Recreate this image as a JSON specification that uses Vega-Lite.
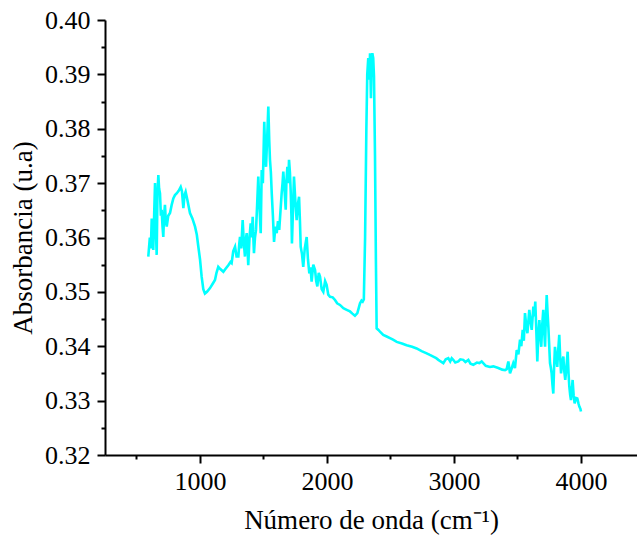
{
  "$schema": "https://vega.github.io/schema/vega-lite/v6.json",
  "width": 532,
  "height": 435,
  "autosize": {"type": "none"},
  "padding": {"left": 105, "top": 20, "right": 0, "bottom": 89},
  "background": "white",
  "config": {
    "view": {"stroke": null},
    "axis": {
      "labelFont": "Liberation Serif",
      "titleFont": "Liberation Serif",
      "labelColor": "#000000",
      "titleColor": "#000000",
      "domainColor": "#000000",
      "tickColor": "#000000",
      "grid": false,
      "labelFontWeight": "normal",
      "titleFontWeight": "normal"
    }
  },
  "data": {
    "values": [
      {"wn": 593, "abs": 0.3565}, {"wn": 605, "abs": 0.3600}, {"wn": 613, "abs": 0.3580}, {"wn": 620, "abs": 0.3635},
      {"wn": 626, "abs": 0.3600}, {"wn": 632, "abs": 0.3577}, {"wn": 640, "abs": 0.3650}, {"wn": 646, "abs": 0.3700},
      {"wn": 652, "abs": 0.3620}, {"wn": 659, "abs": 0.3568}, {"wn": 665, "abs": 0.3680}, {"wn": 672, "abs": 0.3715},
      {"wn": 678, "abs": 0.3690}, {"wn": 685, "abs": 0.3681}, {"wn": 692, "abs": 0.3640}, {"wn": 698, "abs": 0.3651},
      {"wn": 705, "abs": 0.3620}, {"wn": 711, "abs": 0.3601}, {"wn": 717, "abs": 0.3640}, {"wn": 724, "abs": 0.3660},
      {"wn": 731, "abs": 0.3630}, {"wn": 738, "abs": 0.3620}, {"wn": 750, "abs": 0.3640}, {"wn": 764, "abs": 0.3645},
      {"wn": 777, "abs": 0.3660}, {"wn": 790, "abs": 0.3672}, {"wn": 803, "abs": 0.3678}, {"wn": 816, "abs": 0.3681},
      {"wn": 832, "abs": 0.3686}, {"wn": 848, "abs": 0.3693}, {"wn": 858, "abs": 0.3685}, {"wn": 869, "abs": 0.3654},
      {"wn": 878, "abs": 0.3678}, {"wn": 887, "abs": 0.3684}, {"wn": 900, "abs": 0.3670}, {"wn": 921, "abs": 0.3645},
      {"wn": 940, "abs": 0.3635}, {"wn": 961, "abs": 0.3620}, {"wn": 975, "abs": 0.3605}, {"wn": 987, "abs": 0.3583},
      {"wn": 1000, "abs": 0.3560}, {"wn": 1013, "abs": 0.3528}, {"wn": 1026, "abs": 0.3505}, {"wn": 1039, "abs": 0.3497},
      {"wn": 1055, "abs": 0.3500}, {"wn": 1079, "abs": 0.3507}, {"wn": 1100, "abs": 0.3515}, {"wn": 1118, "abs": 0.3522},
      {"wn": 1130, "abs": 0.3535}, {"wn": 1144, "abs": 0.3546}, {"wn": 1160, "abs": 0.3542}, {"wn": 1184, "abs": 0.3537},
      {"wn": 1200, "abs": 0.3542}, {"wn": 1223, "abs": 0.3549}, {"wn": 1240, "abs": 0.3555}, {"wn": 1249, "abs": 0.3553},
      {"wn": 1262, "abs": 0.3575}, {"wn": 1276, "abs": 0.3583}, {"wn": 1288, "abs": 0.3565}, {"wn": 1302, "abs": 0.3565},
      {"wn": 1310, "abs": 0.3590}, {"wn": 1315, "abs": 0.3601}, {"wn": 1325, "abs": 0.3580}, {"wn": 1336, "abs": 0.3632},
      {"wn": 1345, "abs": 0.3590}, {"wn": 1354, "abs": 0.3565}, {"wn": 1360, "abs": 0.3595}, {"wn": 1368, "abs": 0.3608},
      {"wn": 1374, "abs": 0.3580}, {"wn": 1380, "abs": 0.3549}, {"wn": 1390, "abs": 0.3600}, {"wn": 1399, "abs": 0.3626},
      {"wn": 1407, "abs": 0.3600}, {"wn": 1415, "abs": 0.3638}, {"wn": 1420, "abs": 0.3600}, {"wn": 1425, "abs": 0.3571},
      {"wn": 1433, "abs": 0.3600}, {"wn": 1441, "abs": 0.3614}, {"wn": 1450, "abs": 0.3660}, {"wn": 1459, "abs": 0.3712},
      {"wn": 1468, "abs": 0.3660}, {"wn": 1478, "abs": 0.3608}, {"wn": 1486, "abs": 0.3724}, {"wn": 1495, "abs": 0.3700},
      {"wn": 1506, "abs": 0.3813}, {"wn": 1513, "abs": 0.3760}, {"wn": 1520, "abs": 0.3730}, {"wn": 1530, "abs": 0.3790},
      {"wn": 1538, "abs": 0.3841}, {"wn": 1545, "abs": 0.3780}, {"wn": 1551, "abs": 0.3743}, {"wn": 1558, "abs": 0.3720},
      {"wn": 1565, "abs": 0.3681}, {"wn": 1574, "abs": 0.3640}, {"wn": 1583, "abs": 0.3592}, {"wn": 1594, "abs": 0.3620},
      {"wn": 1604, "abs": 0.3608}, {"wn": 1614, "abs": 0.3630}, {"wn": 1624, "abs": 0.3614}, {"wn": 1634, "abs": 0.3650},
      {"wn": 1643, "abs": 0.3681}, {"wn": 1650, "abs": 0.3700}, {"wn": 1656, "abs": 0.3721}, {"wn": 1665, "abs": 0.3690},
      {"wn": 1675, "abs": 0.3651}, {"wn": 1680, "abs": 0.3700}, {"wn": 1688, "abs": 0.3730}, {"wn": 1695, "abs": 0.3700},
      {"wn": 1701, "abs": 0.3743}, {"wn": 1708, "abs": 0.3720}, {"wn": 1714, "abs": 0.3687}, {"wn": 1720, "abs": 0.3640},
      {"wn": 1724, "abs": 0.3589}, {"wn": 1732, "abs": 0.3650}, {"wn": 1740, "abs": 0.3712}, {"wn": 1750, "abs": 0.3670},
      {"wn": 1761, "abs": 0.3632}, {"wn": 1770, "abs": 0.3660}, {"wn": 1780, "abs": 0.3675}, {"wn": 1787, "abs": 0.3630},
      {"wn": 1793, "abs": 0.3583}, {"wn": 1803, "abs": 0.3570}, {"wn": 1813, "abs": 0.3546}, {"wn": 1825, "abs": 0.3580},
      {"wn": 1840, "abs": 0.3601}, {"wn": 1850, "abs": 0.3560}, {"wn": 1861, "abs": 0.3534}, {"wn": 1870, "abs": 0.3545},
      {"wn": 1879, "abs": 0.3519}, {"wn": 1892, "abs": 0.3550}, {"wn": 1906, "abs": 0.3540}, {"wn": 1915, "abs": 0.3520},
      {"wn": 1924, "abs": 0.3510}, {"wn": 1935, "abs": 0.3535}, {"wn": 1945, "abs": 0.3528}, {"wn": 1958, "abs": 0.3505},
      {"wn": 1971, "abs": 0.3500}, {"wn": 1985, "abs": 0.3520}, {"wn": 1997, "abs": 0.3513}, {"wn": 2010, "abs": 0.3495},
      {"wn": 2024, "abs": 0.3491}, {"wn": 2045, "abs": 0.3490}, {"wn": 2063, "abs": 0.3485}, {"wn": 2080, "abs": 0.3479},
      {"wn": 2102, "abs": 0.3476}, {"wn": 2129, "abs": 0.3470}, {"wn": 2155, "abs": 0.3467}, {"wn": 2181, "abs": 0.3464},
      {"wn": 2200, "abs": 0.3460}, {"wn": 2220, "abs": 0.3456}, {"wn": 2239, "abs": 0.3461}, {"wn": 2260, "abs": 0.3479},
      {"wn": 2272, "abs": 0.3484}, {"wn": 2281, "abs": 0.3482}, {"wn": 2290, "abs": 0.3486}, {"wn": 2300, "abs": 0.3600},
      {"wn": 2310, "abs": 0.3800}, {"wn": 2317, "abs": 0.3900}, {"wn": 2325, "abs": 0.3930}, {"wn": 2332, "abs": 0.3890},
      {"wn": 2339, "abs": 0.3939}, {"wn": 2346, "abs": 0.3856}, {"wn": 2352, "abs": 0.3930}, {"wn": 2357, "abs": 0.3939},
      {"wn": 2364, "abs": 0.3930}, {"wn": 2370, "abs": 0.3896}, {"wn": 2378, "abs": 0.3750}, {"wn": 2385, "abs": 0.3560},
      {"wn": 2391, "abs": 0.3433}, {"wn": 2405, "abs": 0.3430}, {"wn": 2417, "abs": 0.3427}, {"wn": 2443, "abs": 0.3421},
      {"wn": 2470, "abs": 0.3418}, {"wn": 2496, "abs": 0.3415}, {"wn": 2520, "abs": 0.3412}, {"wn": 2549, "abs": 0.3408},
      {"wn": 2590, "abs": 0.3405}, {"wn": 2627, "abs": 0.3402}, {"wn": 2670, "abs": 0.3399}, {"wn": 2706, "abs": 0.3396},
      {"wn": 2745, "abs": 0.3391}, {"wn": 2785, "abs": 0.3387}, {"wn": 2810, "abs": 0.3384}, {"wn": 2837, "abs": 0.3381},
      {"wn": 2860, "abs": 0.3378}, {"wn": 2877, "abs": 0.3375}, {"wn": 2895, "abs": 0.3372}, {"wn": 2916, "abs": 0.3369},
      {"wn": 2935, "abs": 0.3376}, {"wn": 2955, "abs": 0.3378}, {"wn": 2970, "abs": 0.3372}, {"wn": 2982, "abs": 0.3378},
      {"wn": 2994, "abs": 0.3375}, {"wn": 3010, "abs": 0.3370}, {"wn": 3034, "abs": 0.3372}, {"wn": 3050, "abs": 0.3376},
      {"wn": 3073, "abs": 0.3375}, {"wn": 3090, "abs": 0.3371}, {"wn": 3113, "abs": 0.3375}, {"wn": 3130, "abs": 0.3368},
      {"wn": 3152, "abs": 0.3366}, {"wn": 3180, "abs": 0.3370}, {"wn": 3200, "abs": 0.3369}, {"wn": 3218, "abs": 0.3372},
      {"wn": 3250, "abs": 0.3364}, {"wn": 3283, "abs": 0.3362}, {"wn": 3310, "abs": 0.3363}, {"wn": 3349, "abs": 0.3360},
      {"wn": 3380, "abs": 0.3357}, {"wn": 3402, "abs": 0.3356}, {"wn": 3415, "abs": 0.3358}, {"wn": 3428, "abs": 0.3372},
      {"wn": 3441, "abs": 0.3350}, {"wn": 3455, "abs": 0.3360}, {"wn": 3467, "abs": 0.3369}, {"wn": 3480, "abs": 0.3360},
      {"wn": 3494, "abs": 0.3393}, {"wn": 3507, "abs": 0.3385}, {"wn": 3520, "abs": 0.3412}, {"wn": 3530, "abs": 0.3400},
      {"wn": 3541, "abs": 0.3430}, {"wn": 3550, "abs": 0.3410}, {"wn": 3559, "abs": 0.3461}, {"wn": 3568, "abs": 0.3440},
      {"wn": 3578, "abs": 0.3424}, {"wn": 3593, "abs": 0.3467}, {"wn": 3603, "abs": 0.3445}, {"wn": 3612, "abs": 0.3430},
      {"wn": 3625, "abs": 0.3473}, {"wn": 3633, "abs": 0.3455}, {"wn": 3640, "abs": 0.3482}, {"wn": 3648, "abs": 0.3430},
      {"wn": 3656, "abs": 0.3372}, {"wn": 3664, "abs": 0.3420}, {"wn": 3672, "abs": 0.3448}, {"wn": 3680, "abs": 0.3420},
      {"wn": 3687, "abs": 0.3399}, {"wn": 3695, "abs": 0.3440}, {"wn": 3703, "abs": 0.3467}, {"wn": 3710, "abs": 0.3430},
      {"wn": 3717, "abs": 0.3399}, {"wn": 3723, "abs": 0.3450}, {"wn": 3730, "abs": 0.3494}, {"wn": 3737, "abs": 0.3460},
      {"wn": 3743, "abs": 0.3436}, {"wn": 3750, "abs": 0.3400}, {"wn": 3756, "abs": 0.3369}, {"wn": 3763, "abs": 0.3360},
      {"wn": 3769, "abs": 0.3350}, {"wn": 3775, "abs": 0.3330}, {"wn": 3782, "abs": 0.3313}, {"wn": 3788, "abs": 0.3360},
      {"wn": 3795, "abs": 0.3399}, {"wn": 3804, "abs": 0.3380}, {"wn": 3813, "abs": 0.3362}, {"wn": 3820, "abs": 0.3390},
      {"wn": 3829, "abs": 0.3421}, {"wn": 3836, "abs": 0.3380}, {"wn": 3843, "abs": 0.3350}, {"wn": 3852, "abs": 0.3370},
      {"wn": 3861, "abs": 0.3381}, {"wn": 3868, "abs": 0.3355}, {"wn": 3876, "abs": 0.3338}, {"wn": 3885, "abs": 0.3360},
      {"wn": 3895, "abs": 0.3390}, {"wn": 3902, "abs": 0.3350}, {"wn": 3908, "abs": 0.3326}, {"wn": 3915, "abs": 0.3310},
      {"wn": 3921, "abs": 0.3301}, {"wn": 3928, "abs": 0.3320}, {"wn": 3934, "abs": 0.3338}, {"wn": 3942, "abs": 0.3310},
      {"wn": 3950, "abs": 0.3295}, {"wn": 3960, "abs": 0.3305}, {"wn": 3971, "abs": 0.3304}, {"wn": 3980, "abs": 0.3295},
      {"wn": 3987, "abs": 0.3289}, {"wn": 3995, "abs": 0.3285}, {"wn": 4000, "abs": 0.3280}
    ]
  },
  "layer": [
    {
      "mark": {"type": "line", "color": "#00FFFF", "strokeWidth": 2.6},
      "encoding": {
        "x": {
          "field": "wn", "type": "quantitative",
          "scale": {"domain": [252, 4441], "nice": false, "zero": false},
          "axis": {
            "orient": "bottom",
            "values": [1000, 2000, 3000, 4000],
            "format": "d",
            "tickSize": 8, "tickWidth": 2, "domainWidth": 2,
            "labelFontSize": 26, "labelPadding": 5,
            "title": "Número de onda (cm⁻¹)",
            "titleFontSize": 27, "titlePadding": 13
          }
        },
        "y": {
          "field": "abs", "type": "quantitative",
          "scale": {"domain": [0.32, 0.40], "nice": false, "zero": false},
          "axis": {
            "orient": "left",
            "values": [0.32, 0.33, 0.34, 0.35, 0.36, 0.37, 0.38, 0.39, 0.40],
            "format": ".2f",
            "tickSize": 8, "tickWidth": 2, "domainWidth": 2,
            "labelFontSize": 26, "labelPadding": 7,
            "title": "Absorbancia (u.a)",
            "titleFontSize": 27, "titlePadding": 7
          }
        }
      }
    },
    {
      "mark": {"type": "line", "opacity": 0},
      "encoding": {
        "x": {
          "field": "wn", "type": "quantitative",
          "axis": {
            "orient": "bottom",
            "values": [500, 1500, 2500, 3500],
            "labels": false, "domain": false, "title": null,
            "tickSize": 4, "tickWidth": 2
          }
        },
        "y": {
          "field": "abs", "type": "quantitative",
          "axis": {
            "orient": "left",
            "values": [0.325, 0.335, 0.345, 0.355, 0.365, 0.375, 0.385, 0.395],
            "labels": false, "domain": false, "title": null,
            "tickSize": 4, "tickWidth": 2
          }
        }
      }
    }
  ],
  "resolve": {"axis": {"x": "independent", "y": "independent"}}
}
